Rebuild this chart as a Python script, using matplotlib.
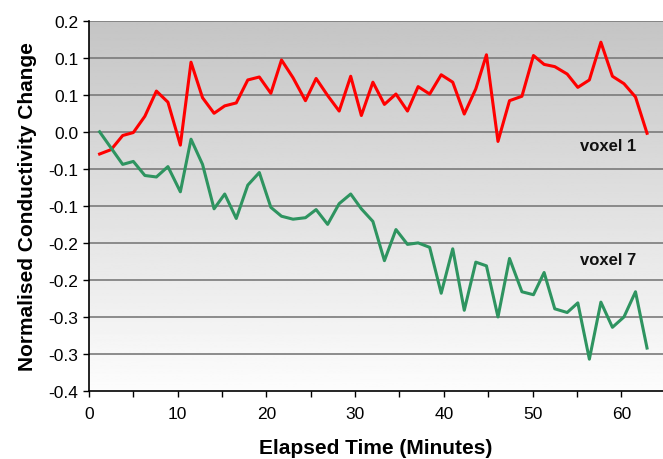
import numpy as np
import matplotlib.pyplot as plt

plt.rcParams['font.family'] = ['Liberation Sans', 'DejaVu Sans']

# elapsed time of each scan (minutes)
minutes = [1.2, 2.5, 3.8, 5.0, 6.3, 7.6, 8.9, 10.3, 11.5, 12.8, 14.1, 15.3, 16.6,
           17.9, 19.2, 20.5, 21.7, 23.0, 24.4, 25.6, 26.9, 28.2, 29.5, 30.7, 32.0,
           33.3, 34.6, 35.9, 37.1, 38.4, 39.7, 41.0, 42.3, 43.6, 44.8, 46.1, 47.4,
           48.8, 50.1, 51.3, 52.5, 53.9, 55.1, 56.4, 57.7, 59.0, 60.3, 61.6, 62.9]

voxel1 = [-0.030, -0.024, -0.005, -0.001, 0.021, 0.055, 0.040, -0.018, 0.094,
          0.046, 0.025, 0.035, 0.039, 0.070, 0.074, 0.052, 0.097, 0.073, 0.042,
          0.072, 0.049, 0.028, 0.075, 0.022, 0.067, 0.037, 0.051, 0.028, 0.061,
          0.051, 0.077, 0.067, 0.024, 0.058, 0.104, -0.013, 0.042, 0.048, 0.103,
          0.091, 0.088, 0.078, 0.060, 0.070, 0.121, 0.075, 0.065, 0.047, -0.002]

voxel7 = [0.000, -0.022, -0.044, -0.040, -0.059, -0.061, -0.047, -0.081, -0.010,
          -0.044, -0.104, -0.084, -0.117, -0.072, -0.055, -0.102, -0.114, -0.118,
          -0.116, -0.105, -0.125, -0.097, -0.084, -0.104, -0.121, -0.174, -0.132,
          -0.152, -0.150, -0.156, -0.218, -0.158, -0.241, -0.176, -0.181, -0.250,
          -0.171, -0.216, -0.220, -0.190, -0.239, -0.244, -0.231, -0.307, -0.230,
          -0.264, -0.250, -0.216, -0.292]

y_ticks = [-0.35, -0.30, -0.25, -0.20, -0.15, -0.10, -0.05, 0.0, 0.05, 0.10, 0.15]
y_tick_labels = ['-0.4', '-0.3', '-0.3', '-0.2', '-0.2', '-0.1', '-0.1', '0.0', '0.1', '0.1', '0.2']
x_ticks = [0, 10, 20, 30, 40, 50, 60]

fig = plt.figure(figsize=(6.63, 4.60), dpi=100)
ax = fig.add_axes([0.1342, 0.1478, 0.8658, 0.805])

x0, x1 = 0, 64.7
y0, y1 = -0.35, 0.15

# grey-to-white vertical gradient behind the plot (dark at the top)
grad = np.linspace(0.77, 0.99, 256).reshape(-1, 1)
ax.imshow(grad, cmap='gray', vmin=0, vmax=1, aspect='auto',
          extent=[x0, x1, y0, y1], zorder=0, origin='upper')

for yv in y_ticks[1:]:
    ax.axhline(yv, color='#7a7a7a', lw=1.2, zorder=1)

ax.plot(minutes, voxel1, color='#ff0000', lw=2.2, zorder=3)
ax.plot(minutes, voxel7, color='#2e9460', lw=2.2, zorder=3)

ax.text(58.5, -0.019, 'voxel 1', fontsize=12, fontweight='bold', ha='center', va='center', color='#111111')
ax.text(58.5, -0.1725, 'voxel 7', fontsize=12, fontweight='bold', ha='center', va='center', color='#111111')

ax.set_xlim(x0, x1)
ax.set_ylim(y0, y1)
ax.set_xticks(x_ticks)
ax.set_xticks([5, 15, 25, 35, 45, 55], minor=True)
ax.set_yticks(y_ticks)
ax.set_yticklabels(y_tick_labels)

ax.tick_params(axis='both', which='both', direction='out', length=4, width=1, labelsize=12.5, colors='black')
ax.tick_params(axis='x', pad=7)

for side in ('top', 'right'):
    ax.spines[side].set_visible(False)
for side in ('left', 'bottom'):
    ax.spines[side].set_linewidth(1.2)
    ax.spines[side].set_zorder(4)

ax.set_xlabel('Elapsed Time (Minutes)', fontsize=15, fontweight='bold', labelpad=12)
ax.set_ylabel('Normalised Conductivity Change', fontsize=15, fontweight='bold', labelpad=8)

fig.savefig('out.png', dpi=100)
